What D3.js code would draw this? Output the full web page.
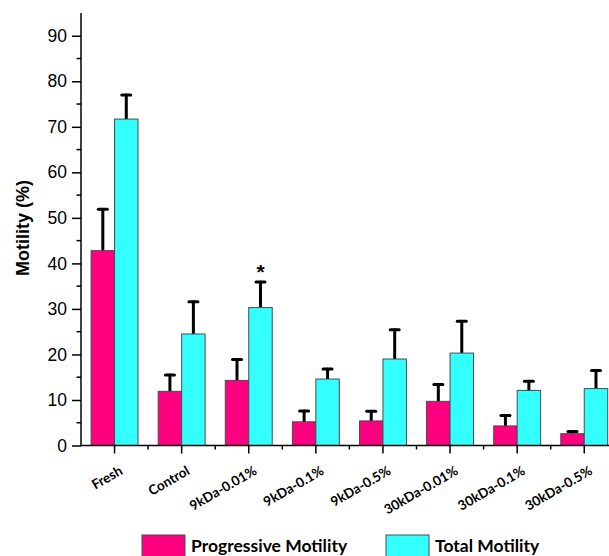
<!DOCTYPE html>
<html>
<head>
<meta charset="utf-8">
<script src="https://cdn.jsdelivr.net/npm/d3@7"></script>
<style>
  body { margin: 0; background: #fff; }
  svg { display: block; }
</style>
</head>
<body>
<div id="chart"></div>
<script>
// data
const groups = ["Fresh", "Control", "9kDa-0.01%", "9kDa-0.1%", "9kDa-0.5%", "30kDa-0.01%", "30kDa-0.1%", "30kDa-0.5%"];
const progressive = [42.8, 11.9, 14.3, 5.2, 5.4, 9.7, 4.3, 2.6];
const progressiveErr = [9.1, 3.6, 4.6, 2.4, 2.1, 3.7, 2.3, 0.5];
const total = [71.7, 24.5, 30.3, 14.6, 19.0, 20.3, 12.1, 12.5];
const totalErr = [5.3, 7.1, 5.6, 2.2, 6.4, 7.0, 2.0, 4.0];
const seriesNames = ["Progressive Motility", "Total Motility"];
const colors = ["#ff0080", "#33ffff"];
const yTicks = [0, 10, 20, 30, 40, 50, 60, 70, 80, 90];
const starred = [{ group: "9kDa-0.01%", series: 1 }];

const W = 609, H = 556;
const plotLeft = 81, plotBottom = 445.5, plotTop = 13;

const svg = d3.select("#chart").append("svg")
    .attr("width", W)
    .attr("height", H);

const x = d3.scaleBand()
    .domain(groups)
    .range([plotLeft, plotLeft + groups.length * 67.1])
    .paddingInner(0)
    .paddingOuter(0);

const y = d3.scaleLinear()
    .domain([0, 95])
    .range([plotBottom, plotTop]);

const inner = d3.scaleBand()
    .domain([0, 1])
    .range([0, x.bandwidth()])
    .paddingInner(0)
    .paddingOuter(0.43);

const rows = [];
groups.forEach((g, i) => {
    rows.push({ g, s: 0, v: progressive[i], e: progressiveErr[i] });
    rows.push({ g, s: 1, v: total[i], e: totalErr[i] });
});

// error bars (drawn under the bars so the stem starts at the bar top)
const err = svg.append("g")
    .attr("stroke", "#000")
    .attr("stroke-width", 3)
    .attr("stroke-linecap", "round");

rows.forEach(d => {
    const cx = x(d.g) + inner(d.s) + inner.bandwidth() / 2;
    err.append("line")
        .attr("x1", cx).attr("x2", cx)
        .attr("y1", y(d.v)).attr("y2", y(d.v + d.e));
    err.append("line")
        .attr("x1", cx - 4.5).attr("x2", cx + 4.5)
        .attr("y1", y(d.v + d.e)).attr("y2", y(d.v + d.e));
});

// bars
svg.append("g")
    .selectAll("rect")
    .data(rows)
    .join("rect")
    .attr("x", d => x(d.g) + inner(d.s))
    .attr("y", d => y(d.v))
    .attr("width", inner.bandwidth())
    .attr("height", d => y(0) - y(d.v))
    .attr("fill", d => colors[d.s])
    .attr("stroke", "#4a4a4a")
    .attr("stroke-width", 1);

// asterisk
starred.forEach(st => {
    const i = groups.indexOf(st.group);
    const vals = st.series === 0 ? progressive : total;
    const errs = st.series === 0 ? progressiveErr : totalErr;
    svg.append("text")
        .attr("x", x(st.group) + inner(st.series) + inner.bandwidth() / 2)
        .attr("y", y(vals[i] + errs[i]) - 3)
        .attr("text-anchor", "middle")
        .style("font-family", "Liberation Sans, Arial, sans-serif")
        .style("font-size", "21px")
        .style("font-weight", "bold")
        .text("*");
});

// y axis
const yAxis = svg.append("g")
    .attr("transform", `translate(${plotLeft},0)`)
    .call(d3.axisLeft(y).tickValues(yTicks).tickSize(9).tickPadding(5));
yAxis.select(".domain").attr("d", `M0,${y(0)}V${plotTop}`).attr("stroke-width", 1.5);
yAxis.selectAll(".tick line").attr("stroke-width", 1.5);
yAxis.selectAll(".tick text")
    .style("font-family", "Liberation Sans, Arial, sans-serif")
    .style("font-size", "17.5px")
    .attr("fill", "#000");
// minor ticks
svg.append("g")
    .selectAll("line")
    .data(d3.range(5, 95, 10))
    .join("line")
    .attr("x1", plotLeft - 4.5).attr("x2", plotLeft)
    .attr("y1", d => y(d)).attr("y2", d => y(d))
    .attr("stroke", "#000").attr("stroke-width", 1.5);

// x axis
const xAxis = svg.append("g")
    .attr("transform", `translate(0,${plotBottom})`)
    .call(d3.axisBottom(x).tickSize(8).tickFormat(""));
xAxis.select(".domain").attr("d", `M${plotLeft},0H${W}`).attr("stroke-width", 1.5);
xAxis.selectAll(".tick line").attr("stroke-width", 1.5);
svg.append("g")
    .selectAll("line")
    .data(groups.slice(1))
    .join("line")
    .attr("x1", d => x(d)).attr("x2", d => x(d))
    .attr("y1", plotBottom).attr("y2", plotBottom + 4)
    .attr("stroke", "#000").attr("stroke-width", 1.5);

svg.append("g")
    .selectAll("text")
    .data(groups)
    .join("text")
    .attr("transform", d => `translate(${x(d) + x.bandwidth() / 2 + 9},${plotBottom + 28}) rotate(-30)`)
    .attr("text-anchor", "end")
    .style("font-family", "Lato, sans-serif")
    .style("font-size", "13.5px")
    .style("font-weight", "bold")
    .text(d => d);

// y title
svg.append("text")
    .attr("transform", `translate(24,228) rotate(-90)`)
    .attr("text-anchor", "middle")
    .attr("dominant-baseline", "middle")
    .style("font-family", "Liberation Sans, Arial, sans-serif")
    .style("font-size", "18px")
    .style("font-weight", "bold")
    .text("Motility (%)");

// legend
const legendX = [142, 386];
const legend = svg.append("g");
seriesNames.forEach((name, i) => {
    legend.append("rect")
        .attr("x", legendX[i]).attr("y", 535)
        .attr("width", 43).attr("height", 30)
        .attr("fill", colors[i])
        .attr("stroke", "#4a4a4a").attr("stroke-width", 1);
    legend.append("text")
        .attr("x", legendX[i] + 49).attr("y", 552)
        .style("font-family", "Lato, sans-serif")
        .style("font-size", "17.5px")
        .style("font-weight", "bold")
        .text(name);
});
</script>
</body>
</html>
